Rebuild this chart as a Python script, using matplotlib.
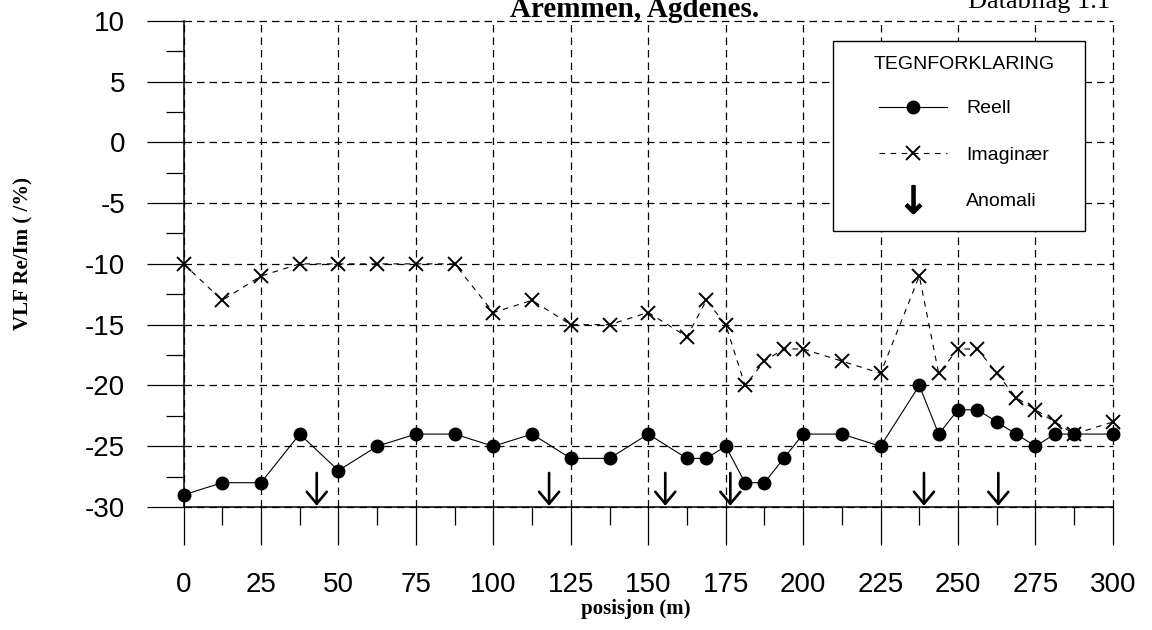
import numpy as np
import matplotlib
matplotlib.use("Agg")
import matplotlib.pyplot as plt
from matplotlib.lines import Line2D
from matplotlib.patches import Rectangle
from matplotlib.ticker import MultipleLocator

# Måledata VLF-profil
posisjon = [0, 12.5, 25, 37.5, 50, 62.5, 75, 87.5, 100, 112.5, 125, 137.5, 150,
            162.5, 168.75, 175, 181.25, 187.5, 193.75, 200, 212.5, 225, 237.5,
            243.75, 250, 256.25, 262.5, 268.75, 275, 281.25, 287.5, 300]
reell = [-29, -28, -28, -24, -27, -25, -24, -24, -25, -24, -26, -26, -24,
         -26, -26, -25, -28, -28, -26, -24, -24, -25, -20,
         -24, -22, -22, -23, -24, -25, -24, -24, -24]
imaginaer = [-10, -13, -11, -10, -10, -10, -10, -10, -14, -13, -15, -15, -14,
             -16, -13, -15, -20, -18, -17, -17, -18, -19, -11,
             -19, -17, -17, -19, -21, -22, -23, -24, -23]
anomali = [43, 118, 155.5, 176.5, 239, 263]

x_ticks = np.arange(0, 301, 25)
y_ticks = np.arange(-30, 11, 5)

sans = "Liberation Sans"
serif = "Liberation Serif"
plt.rcParams["axes.unicode_minus"] = False

fig = plt.figure(figsize=(11.52, 6.3), dpi=100)
ax = fig.add_axes([0.1593, 0.1952, 0.9661 - 0.1593, 0.9671 - 0.1952])

# Kurvene
ax.plot(posisjon, reell, color="black", lw=0.8, marker="o", markersize=9,
        zorder=3, clip_on=False)
ax.plot(posisjon, imaginaer, color="black", lw=0.8, linestyle=(0, (5, 5)),
        marker="x", markersize=10, markeredgewidth=1.4, zorder=3, clip_on=False)

# Anomalipiler
for xa in anomali:
  ax.annotate("", xy=(xa, -29.9), xytext=(xa, -27.2),
              arrowprops=dict(arrowstyle="->,head_length=0.43,head_width=0.36",
                              lw=1.9, color="black", shrinkA=0, shrinkB=0,
                              mutation_scale=20))

# Akser
ax.set_xlim(0, 300)
ax.set_ylim(-30, 10)
ax.set_xticks(x_ticks)
ax.set_yticks(y_ticks)
ax.xaxis.set_minor_locator(MultipleLocator(12.5))
ax.yaxis.set_minor_locator(MultipleLocator(2.5))
ax.tick_params(axis="x", which="major", direction="out", length=27, width=0.9, pad=20)
ax.tick_params(axis="x", which="minor", direction="out", length=13, width=0.9)
ax.tick_params(axis="y", which="major", direction="out", length=27, width=0.9, pad=15)
ax.tick_params(axis="y", which="minor", direction="out", length=13, width=0.9)
for lab in ax.get_xticklabels() + ax.get_yticklabels():
  lab.set_fontfamily(sans)
  lab.set_fontsize(20)

for s in ["top", "right"]:
  ax.spines[s].set_visible(False)
for s in ["left", "bottom"]:
  ax.spines[s].set_linewidth(1.1)

ax.grid(True, which="major", color="black", lw=0.9, linestyle=(0, (6, 4)))
for gl in ax.get_xgridlines() + ax.get_ygridlines():
  gl.set_clip_on(False)

# Tegnforklaring
ax.add_patch(Rectangle((0.699, 0.5676), 0.271, 0.3904, transform=ax.transAxes,
                       facecolor="white", edgecolor="black", lw=1.0,
                       zorder=4, clip_on=False))
handles = [
  Line2D([], [], color="black", lw=0.8, marker="o", markersize=9),
  Line2D([], [], color="black", lw=0.8, linestyle=(0, (5, 5)), marker="x",
         markersize=10, markeredgewidth=1.4),
  Line2D([], [], linestyle="none", color="black", marker=r"$\downarrow$", markersize=20),
]
leg = ax.legend(handles, ["Reell", "Imaginær", "Anomali"], title="TEGNFORKLARING",
                loc="upper left", bbox_to_anchor=(0.742, 0.928), frameon=False,
                borderpad=0, borderaxespad=0, numpoints=1, handlelength=3.5,
                handletextpad=1.0, labelspacing=1.48,
                prop={"family": sans, "size": 14},
                title_fontproperties={"family": sans, "size": 14})
leg._legend_box.sep = 19.5
leg.set_zorder(5)

# Tekster
fig.text(23 / 1152, 1 - 253 / 630, "VLF Re/Im ( /%)", rotation=90, ha="center",
         va="center", fontsize=15, fontweight="bold", family=serif)
fig.text(636 / 1152, 1 - 609 / 630, "posisjon (m)", ha="center", va="center",
         fontsize=15, fontweight="bold", family=serif)
fig.text(0.551, 1 - 17 / 630, "Aremmen, Agdenes.", ha="center", va="baseline",
         fontsize=21, fontweight="bold", family=serif)
fig.text(968 / 1152, 1 - 8 / 630, "Databilag 1.1", ha="left", va="baseline",
         fontsize=19, family=serif)

fig.savefig("out.png", dpi=100)
